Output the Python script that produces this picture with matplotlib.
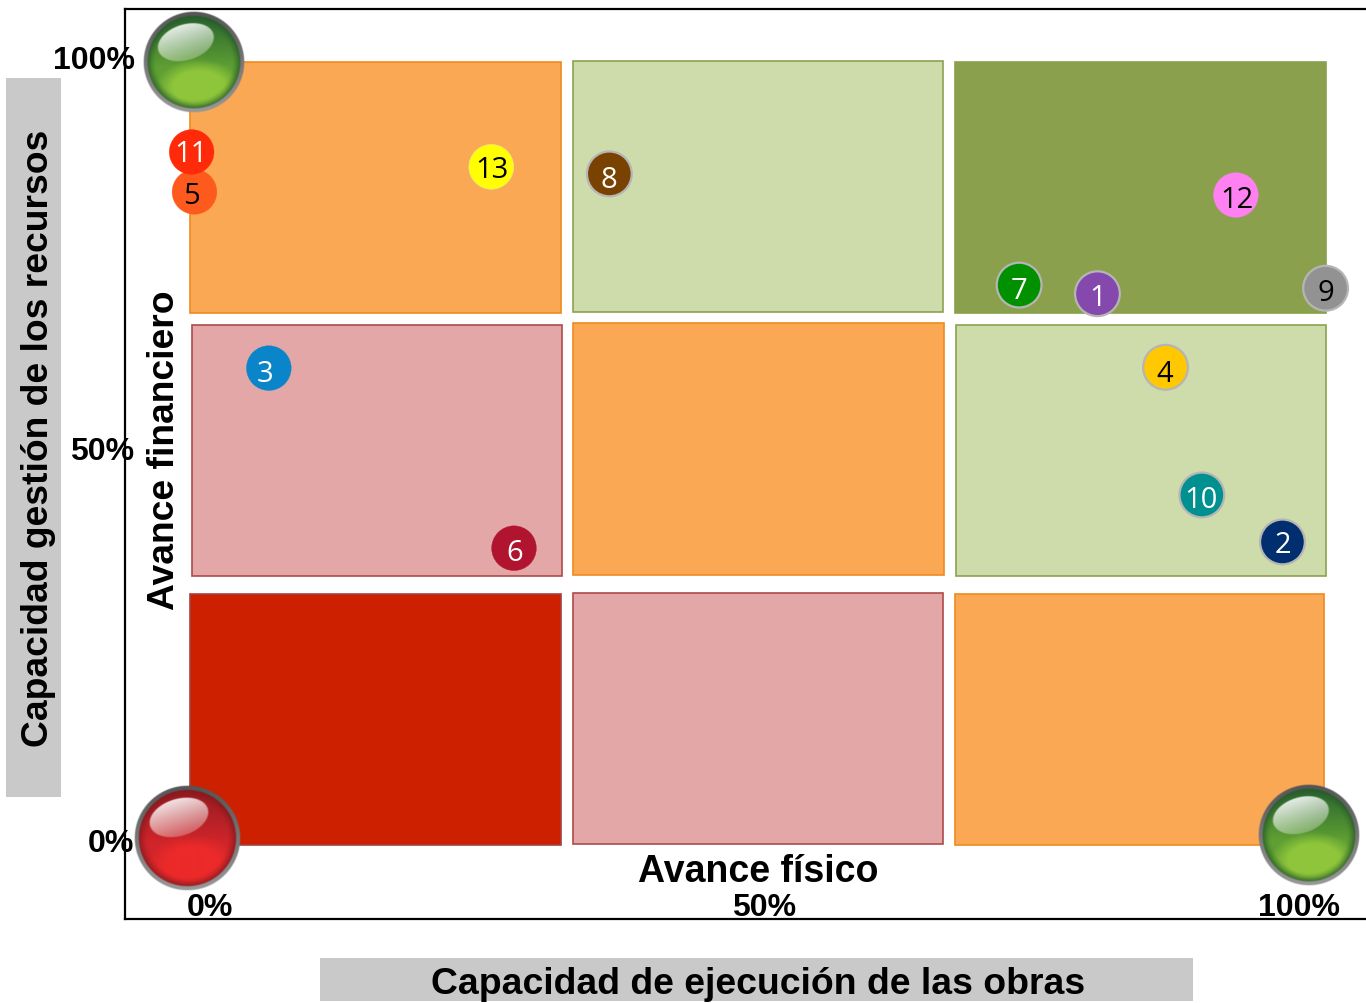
import numpy as np
import matplotlib
matplotlib.use("Agg")
import matplotlib.pyplot as plt
from matplotlib.patches import Rectangle

W, H = 1366, 1003

# Matrix cells (percent scale of both axes)
cell_x0 = [0.0, 33.66, 67.31, 0.09, 33.74, 67.40, 0.0, 33.66, 67.31]
cell_x1 = [32.6, 66.26, 100.0, 32.69, 66.34, 100.0, 32.6, 66.26, 99.9]
cell_y0 = [67.94, 68.07, 67.94, 34.36, 34.48, 34.36, 0.0, 0.13, 0.0]
cell_y1 = [100.0, 100.13, 100.0, 66.41, 66.67, 66.41, 32.06, 32.18, 32.06]
cell_fill = ["#fba855", "#cddcaa", "#8ba04c", "#e2a7a6", "#fba855", "#cddcaa", "#cd2000", "#e2a7a6", "#fba855"]
cell_edge = ["#ee8a1e", "#8ca24e", "#8ba04c", "#b04a4a", "#ee8a1e", "#8ca24e", "#a84040", "#b04a4a", "#ee8a1e"]

# Projects
point_labels = ["1", "2", "3", "4", "5", "6", "7", "8", "9", "10", "11", "12", "13"]
avance_fisico = [79.9, 96.2, 6.9, 85.9, 0.35, 28.5, 73.0, 36.9, 100.0, 89.1, 0.1, 92.1, 26.5]
avance_financiero = [70.4, 38.7, 60.9, 61.0, 83.4, 37.9, 71.5, 85.7, 71.1, 44.7, 88.5, 83.0, 86.6]
point_colors = ["#8548ad", "#002e6e", "#0a85c9", "#ffc800", "#ff5a1e", "#b0142f", "#009000",
                "#7a4200", "#929292", "#009090", "#ff2a0a", "#ff80f0", "#ffff00"]
point_edges = ["#b5b5b5", "#b5b5b5", "#0a85c9", "#b5b5b5", "#ff5a1e", "#b0142f", "#b5b5b5",
               "#b5b5b5", "#b5b5b5", "#b5b5b5", "#ff2a0a", "#ff80f0", "#e8e8a0"]
point_edge_widths = [1.6, 1.6, 0.2, 1.6, 0.2, 0.2, 1.6, 1.6, 1.6, 1.6, 0.2, 0.2, 0.4]
text_colors = ["white", "white", "white", "black", "black", "white", "white",
               "white", "black", "white", "white", "black", "black"]
label_x = [79.95, 96.25, 6.6, 85.85, 0.1, 28.6, 73.0, 36.85, 100.0, 89.05, 0.05, 92.2, 26.55]
label_y = [69.8, 38.2, 60.05, 60.05, 82.85, 37.3, 70.65, 84.85, 70.45, 44.05, 88.15, 82.35, 86.15]

x_tick_labels = ["0%", "50%", "100%"]
x_tick_pos = [1.67, 50.57, 97.7]
y_tick_labels = ["0%", "50%", "100%"]
y_tick_pos = [0.2, 50.2, 100.1]

fig = plt.figure(figsize=(13.66, 10.031), dpi=100)
fig.patch.set_facecolor("white")
ax = fig.add_axes([125 / W, 1 - 919 / H, (W - 125) / W, (919 - 9) / H])
ax.set_xlim(-5.77, 103.56)
ax.set_ylim(-9.45, 106.77)
ax.set_xticks([])
ax.set_yticks([])
ax.spines["right"].set_visible(False)
for s in ("left", "top", "bottom"):
    ax.spines[s].set_linewidth(1.6)
    ax.spines[s].set_color("black")

for x0, x1, y0, y1, f, e in zip(cell_x0, cell_x1, cell_y0, cell_y1, cell_fill, cell_edge):
    ax.add_patch(Rectangle((x0, y0), x1 - x0, y1 - y0, facecolor=f, edgecolor=e, linewidth=1.2, zorder=1))

# Grey bands behind the outer titles
ax.add_patch(Rectangle((11.45, -19.92), 76.83, 5.49, facecolor="#c9c9c9", edgecolor="none", clip_on=False))
ax.add_patch(Rectangle((-16.21, 6.13), 4.84, 91.83, facecolor="#c9c9c9", edgecolor="none", clip_on=False))

bold = dict(family="Liberation Sans", fontweight="bold", color="black", ha="center", va="center")
ax.text(49.96, -17.75, "Capacidad de ejecución de las obras", fontsize=26.9, **bold)
ax.text(-13.35, 52.0, "Capacidad gestión de los recursos", fontsize=26.8, rotation=90, **bold)
ax.text(-2.3, 50.45, "Avance financiero", fontsize=26.8, rotation=90, **bold)
ax.text(50.0, -3.45, "Avance físico", fontsize=27, **bold)

for p, t in zip(x_tick_pos, x_tick_labels):
    ax.text(p, -8.05, t, fontsize=23, **bold)
for p, t in zip(y_tick_pos, y_tick_labels):
    ax.text(-4.93, p, t, fontsize=23, family="Liberation Sans", fontweight="bold", ha="right", va="center")

ax.scatter(avance_fisico, avance_financiero, s=1040, c=point_colors, edgecolors=point_edges,
           linewidths=point_edge_widths, zorder=3, clip_on=False)
for x, y, t, c in zip(label_x, label_y, point_labels, text_colors):
    ax.text(x, y, t, color=c, fontsize=21, family="Open Sans", ha="center", va="center", zorder=4)


def button(center, radius, dark, mid, bright):
    """Glossy round lamp: drawn in its own small axes, centred on a data position."""
    cx, cy = ax.transData.transform(center)
    n = 4 * radius
    yy, xx = np.mgrid[-1:1:n * 1j, -1:1:n * 1j]
    rr = np.hypot(xx, yy)
    dark, mid, bright = (np.array(matplotlib.colors.to_rgb(c)) for c in (dark, mid, bright))
    # body: dark on top, lighter towards the lower middle
    t = np.clip((yy + 0.85) / 0.95, 0, 1)[..., None]
    img = dark + (mid - dark) * t
    # bright lower lobe
    lobe = np.hypot((xx - 0.10) / 0.72, (yy - 0.50) / 0.46)
    lw = np.clip((1.2 - lobe) / 0.5, 0, 1)[..., None]
    img = img + (bright - img) * lw
    # dark rim
    rim = np.clip((rr - 0.74) / 0.2, 0, 1)[..., None] ** 1.5
    img = img + (dark * 0.85 - img) * rim
    # highlight
    a = np.deg2rad(-17)
    u = (xx + 0.16) * np.cos(a) + (yy + 0.39) * np.sin(a)
    v = -(xx + 0.16) * np.sin(a) + (yy + 0.39) * np.cos(a)
    he = np.hypot(u / 0.58, v / 0.36)
    alpha = np.clip((1 - he) / 0.05, 0, 1) * (0.88 - 0.62 * np.clip((v + 0.36) / 0.72, 0, 1))
    img = img + (np.array([1, 1, 1.0]) - img) * alpha[..., None]
    # grey ring
    ringt = np.clip((yy + 1) / 2, 0, 1)
    ring = (0.33 + 0.27 * ringt)[..., None] * np.ones(3)
    inner = np.clip((0.925 - rr) / 0.025, 0, 1)[..., None]
    img = ring + (img - ring) * inner
    al = np.clip((1 - rr) / 0.02, 0, 1)
    rgba = np.clip(np.dstack([img, al]), 0, 1)
    bax = fig.add_axes([(cx - radius) / fig.bbox.width, (cy - radius) / fig.bbox.height,
                        2 * radius / fig.bbox.width, 2 * radius / fig.bbox.height], zorder=10)
    bax.imshow(rgba, interpolation="bilinear", aspect="auto")
    bax.axis("off")


button((0.35, 100.0), 51, "#2c672f", "#5f9f33", "#8fc63b")
button((-0.35, 0.9), 53, "#981c22", "#d0252a", "#ec2a2a")
button((98.5, 1.3), 51, "#2c672f", "#5f9f33", "#8fc63b")

fig.savefig("out.png", dpi=100)
